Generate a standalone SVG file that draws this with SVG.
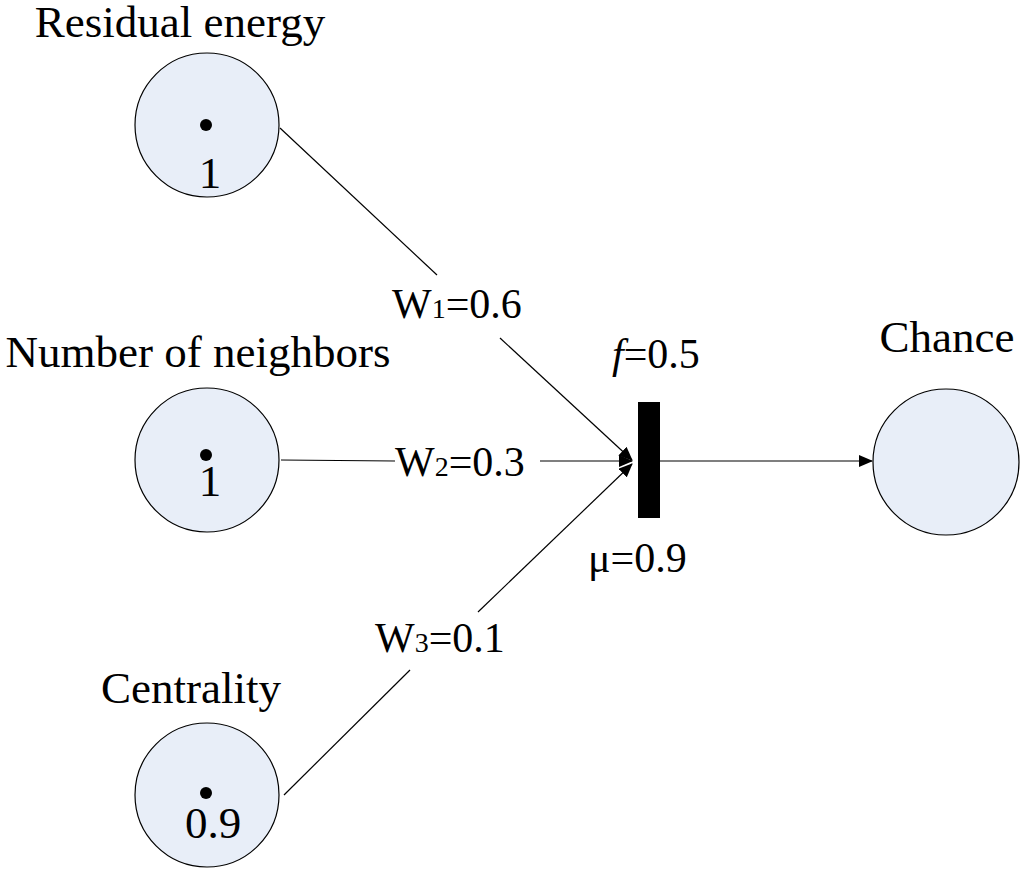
<svg xmlns="http://www.w3.org/2000/svg" width="1024" height="870" viewBox="0 0 1024 870">
<defs>
<marker id="ah" markerWidth="14" markerHeight="12" refX="13" refY="6" orient="auto" markerUnits="userSpaceOnUse"><path d="M0,0 L14,6 L0,12 Z" fill="#000"/></marker>
<style>
.n{fill:#e8eef8;stroke:#000;stroke-width:1.2}
.t{font-family:"Liberation Serif","Times New Roman",serif;font-size:45px;fill:#000}
.w{font-size:42px}
.l{stroke:#000;stroke-width:1.2;fill:none}
</style>
</defs>
<rect width="1024" height="870" fill="#fff"/>
<g id="connectors">
<path class="l" d="M280,128 L437,275"/>
<path class="l" d="M500,338 L632,460" marker-end="url(#ah)"/>
<path class="l" d="M281,460 L395,461"/>
<path class="l" d="M540,461 L632,461" marker-end="url(#ah)"/>
<path class="l" d="M284,795 L410,670"/>
<path class="l" d="M478,612 L632,464" marker-end="url(#ah)"/>
<path class="l" d="M660,461 L872,461" marker-end="url(#ah)"/>
</g>
<g id="n1"><circle class="n" cx="207" cy="125" r="72"/><circle cx="206" cy="125" r="6"/><text class="t" x="210" y="188" text-anchor="middle">1</text><text class="t" x="180" y="37" text-anchor="middle">Residual energy</text></g>
<g id="n2"><circle class="n" cx="207" cy="460" r="72"/><circle cx="206" cy="455" r="6"/><text class="t" x="210" y="496" text-anchor="middle">1</text><text class="t" x="198" y="367" text-anchor="middle">Number of neighbors</text></g>
<g id="n3"><circle class="n" cx="207" cy="795" r="72"/><circle cx="206" cy="793" r="6"/><text class="t" x="213" y="838" text-anchor="middle">0.9</text><text class="t" x="191" y="703" text-anchor="middle">Centrality</text></g>
<g id="bar"><rect x="638" y="402" width="22" height="116" fill="#000"/><text class="t w" x="612" y="368"><tspan font-style="italic">f</tspan>=0.5</text><text class="t w" x="588" y="572">μ=0.9</text></g>
<g id="chance"><circle class="n" cx="946" cy="462" r="73"/><text class="t" x="947" y="352" text-anchor="middle">Chance</text></g>
<g id="labels">
<text class="t w" x="392" y="318">W<tspan font-size="28">1</tspan>=0.6</text>
<text class="t w" x="395" y="476">W<tspan font-size="28">2</tspan>=0.3</text>
<text class="t w" x="375" y="652">W<tspan font-size="28">3</tspan>=0.1</text>
</g>
</svg>
